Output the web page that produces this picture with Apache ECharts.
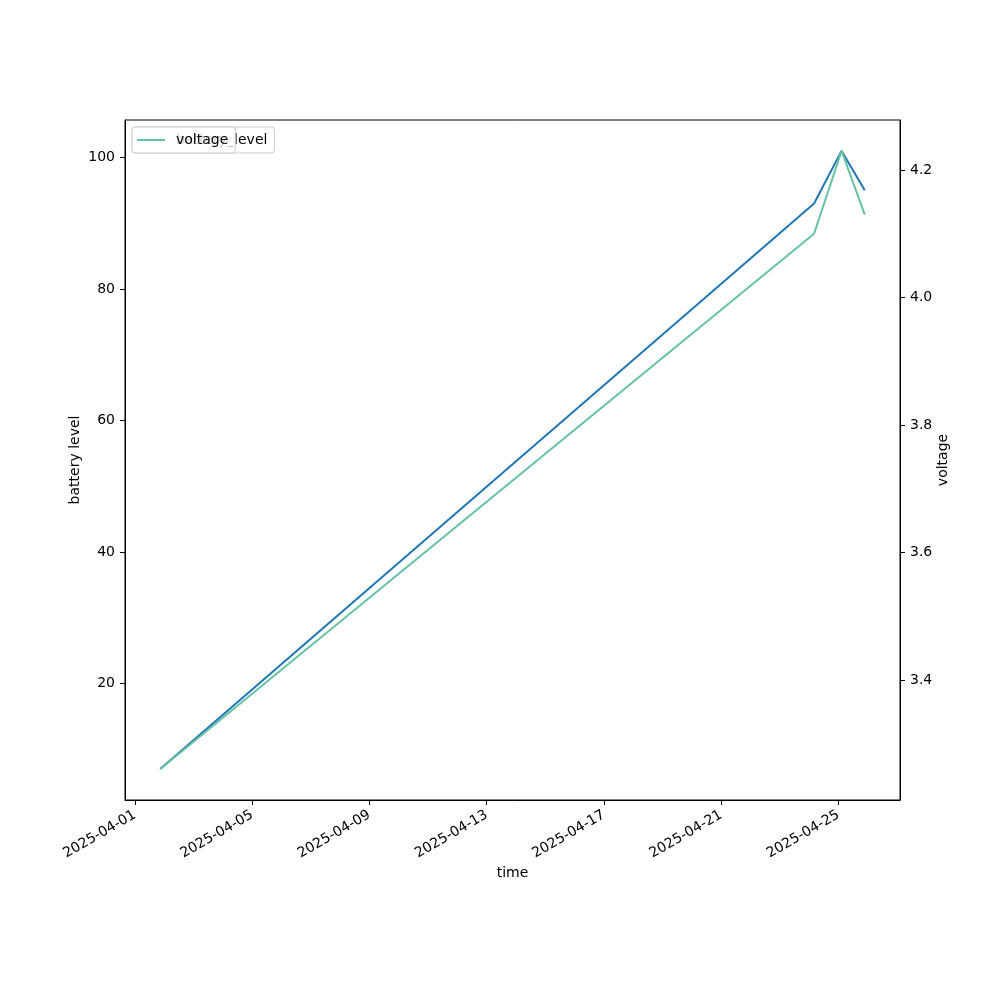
<!DOCTYPE html>
<html>
<head>
<meta charset="utf-8">
<script src="https://cdn.jsdelivr.net/npm/echarts@6/dist/echarts.min.js"></script>
<style>
html,body{margin:0;padding:0;background:#fff;}
#chart{width:1000px;height:1000px;}
</style>
</head>
<body>
<div id="chart"></div>
<script>
// ---- data ----
var times = ['2025-04-01T20:45:00Z', '2025-04-24T04:00:00Z', '2025-04-25T02:30:00Z', '2025-04-25T21:30:00Z'];
var batteryLevel = [7, 93, 101, 95];
var voltage = [3.26, 4.10, 4.23, 4.13];
var xTickLabels = ['2025-04-01', '2025-04-05', '2025-04-09', '2025-04-13', '2025-04-17', '2025-04-21', '2025-04-25'];
var leftTicks = [20, 40, 60, 80, 100];
var rightTicks = [3.4, 3.6, 3.8, 4.0, 4.2];

// ---- helpers ----
var tms = times.map(function (s) { return Date.parse(s); });
var xTickVals = xTickLabels.map(function (s) { return Date.parse(s + 'T00:00:00Z'); });
function pad(arr) {
  var mn = Math.min.apply(null, arr), mx = Math.max.apply(null, arr), r = mx - mn;
  return [mn - 0.05 * r, mx + 0.05 * r];
}
var xr = pad(tms), yl = pad(batteryLevel), yr = pad(voltage);
function zip(a, b) { return a.map(function (v, i) { return [v, b[i]]; }); }

var FONT = 'DejaVu Sans';
var chart = echarts.init(document.getElementById('chart'), null, { renderer: 'canvas' });
var legendBase = {
  left: 132, top: 127, orient: 'horizontal',
  itemWidth: 28, itemHeight: 2,
  icon: 'rect',
  padding: [5, 7, 5, 5],
  borderColor: '#cccccc', borderWidth: 1, borderRadius: 3,
  backgroundColor: 'rgba(255,255,255,0.8)',
  textStyle: { fontFamily: FONT, fontSize: 14, color: '#000', padding: [0, 0, 0, 6], lineHeight: 16 }
};
var option = {
  animation: false,
  backgroundColor: '#ffffff',
  grid: { left: 125, right: 100, top: 120, bottom: 200, show: true, borderColor: '#000', borderWidth: 1, backgroundColor: 'transparent' },
  legend: [
    Object.assign({}, legendBase, { data: ['battery_level'], z: 10 }),
    Object.assign({}, legendBase, { data: ['voltage'], z: 11 })
  ],
  xAxis: {
    type: 'value', min: xr[0], max: xr[1], scale: true,
    name: 'time', nameLocation: 'middle', nameGap: 66, nameMoveOverlap: false,
    nameTextStyle: { fontFamily: FONT, fontSize: 14, color: '#000' },
    axisLine: { show: true, lineStyle: { color: '#000', width: 1 } },
    axisTick: { show: true, length: 5, lineStyle: { color: '#000', width: 1 }, customValues: xTickVals },
    axisLabel: {
      customValues: xTickVals, rotate: 30, margin: 14,
      fontFamily: FONT, fontSize: 14, color: '#000',
      formatter: function (v) { return new Date(v).toISOString().slice(0, 10); }
    },
    splitLine: { show: false }
  },
  yAxis: [
    {
      type: 'value', min: yl[0], max: yl[1], position: 'left',
      name: 'battery level', nameLocation: 'middle', nameGap: 43, nameRotate: 90, nameMoveOverlap: false,
      nameTextStyle: { fontFamily: FONT, fontSize: 14, color: '#000' },
      axisLine: { show: true, lineStyle: { color: '#000', width: 1 } },
      axisTick: { show: true, length: 5, lineStyle: { color: '#000', width: 1 }, customValues: leftTicks },
      axisLabel: { customValues: leftTicks, margin: 10, fontFamily: FONT, fontSize: 14, color: '#000',
        formatter: function (v) { return String(Math.round(v)); } },
      splitLine: { show: false }
    },
    {
      type: 'value', min: yr[0], max: yr[1], position: 'right',
      name: 'voltage', nameLocation: 'middle', nameGap: 36, nameRotate: 90, nameMoveOverlap: false,
      nameTextStyle: { fontFamily: FONT, fontSize: 14, color: '#000' },
      axisLine: { show: true, lineStyle: { color: '#000', width: 1 } },
      axisTick: { show: true, length: 5, lineStyle: { color: '#000', width: 1 }, customValues: rightTicks },
      axisLabel: { customValues: rightTicks, margin: 10, fontFamily: FONT, fontSize: 14, color: '#000',
        formatter: function (v) { return v.toFixed(1); } },
      splitLine: { show: false }
    }
  ],
  series: [
    {
      name: 'battery_level', type: 'line', yAxisIndex: 0,
      data: zip(tms, batteryLevel), symbol: 'none', showSymbol: false,
      color: '#1f77b4', lineStyle: { color: '#1f77b4', width: 2 }, z: 2
    },
    {
      name: 'voltage', type: 'line', yAxisIndex: 1,
      data: zip(tms, voltage), symbol: 'none', showSymbol: false,
      color: '#66c2a5', lineStyle: { color: '#66c2a5', width: 2 }, z: 3
    }
  ]
};
chart.setOption(option);
</script>
</body>
</html>
